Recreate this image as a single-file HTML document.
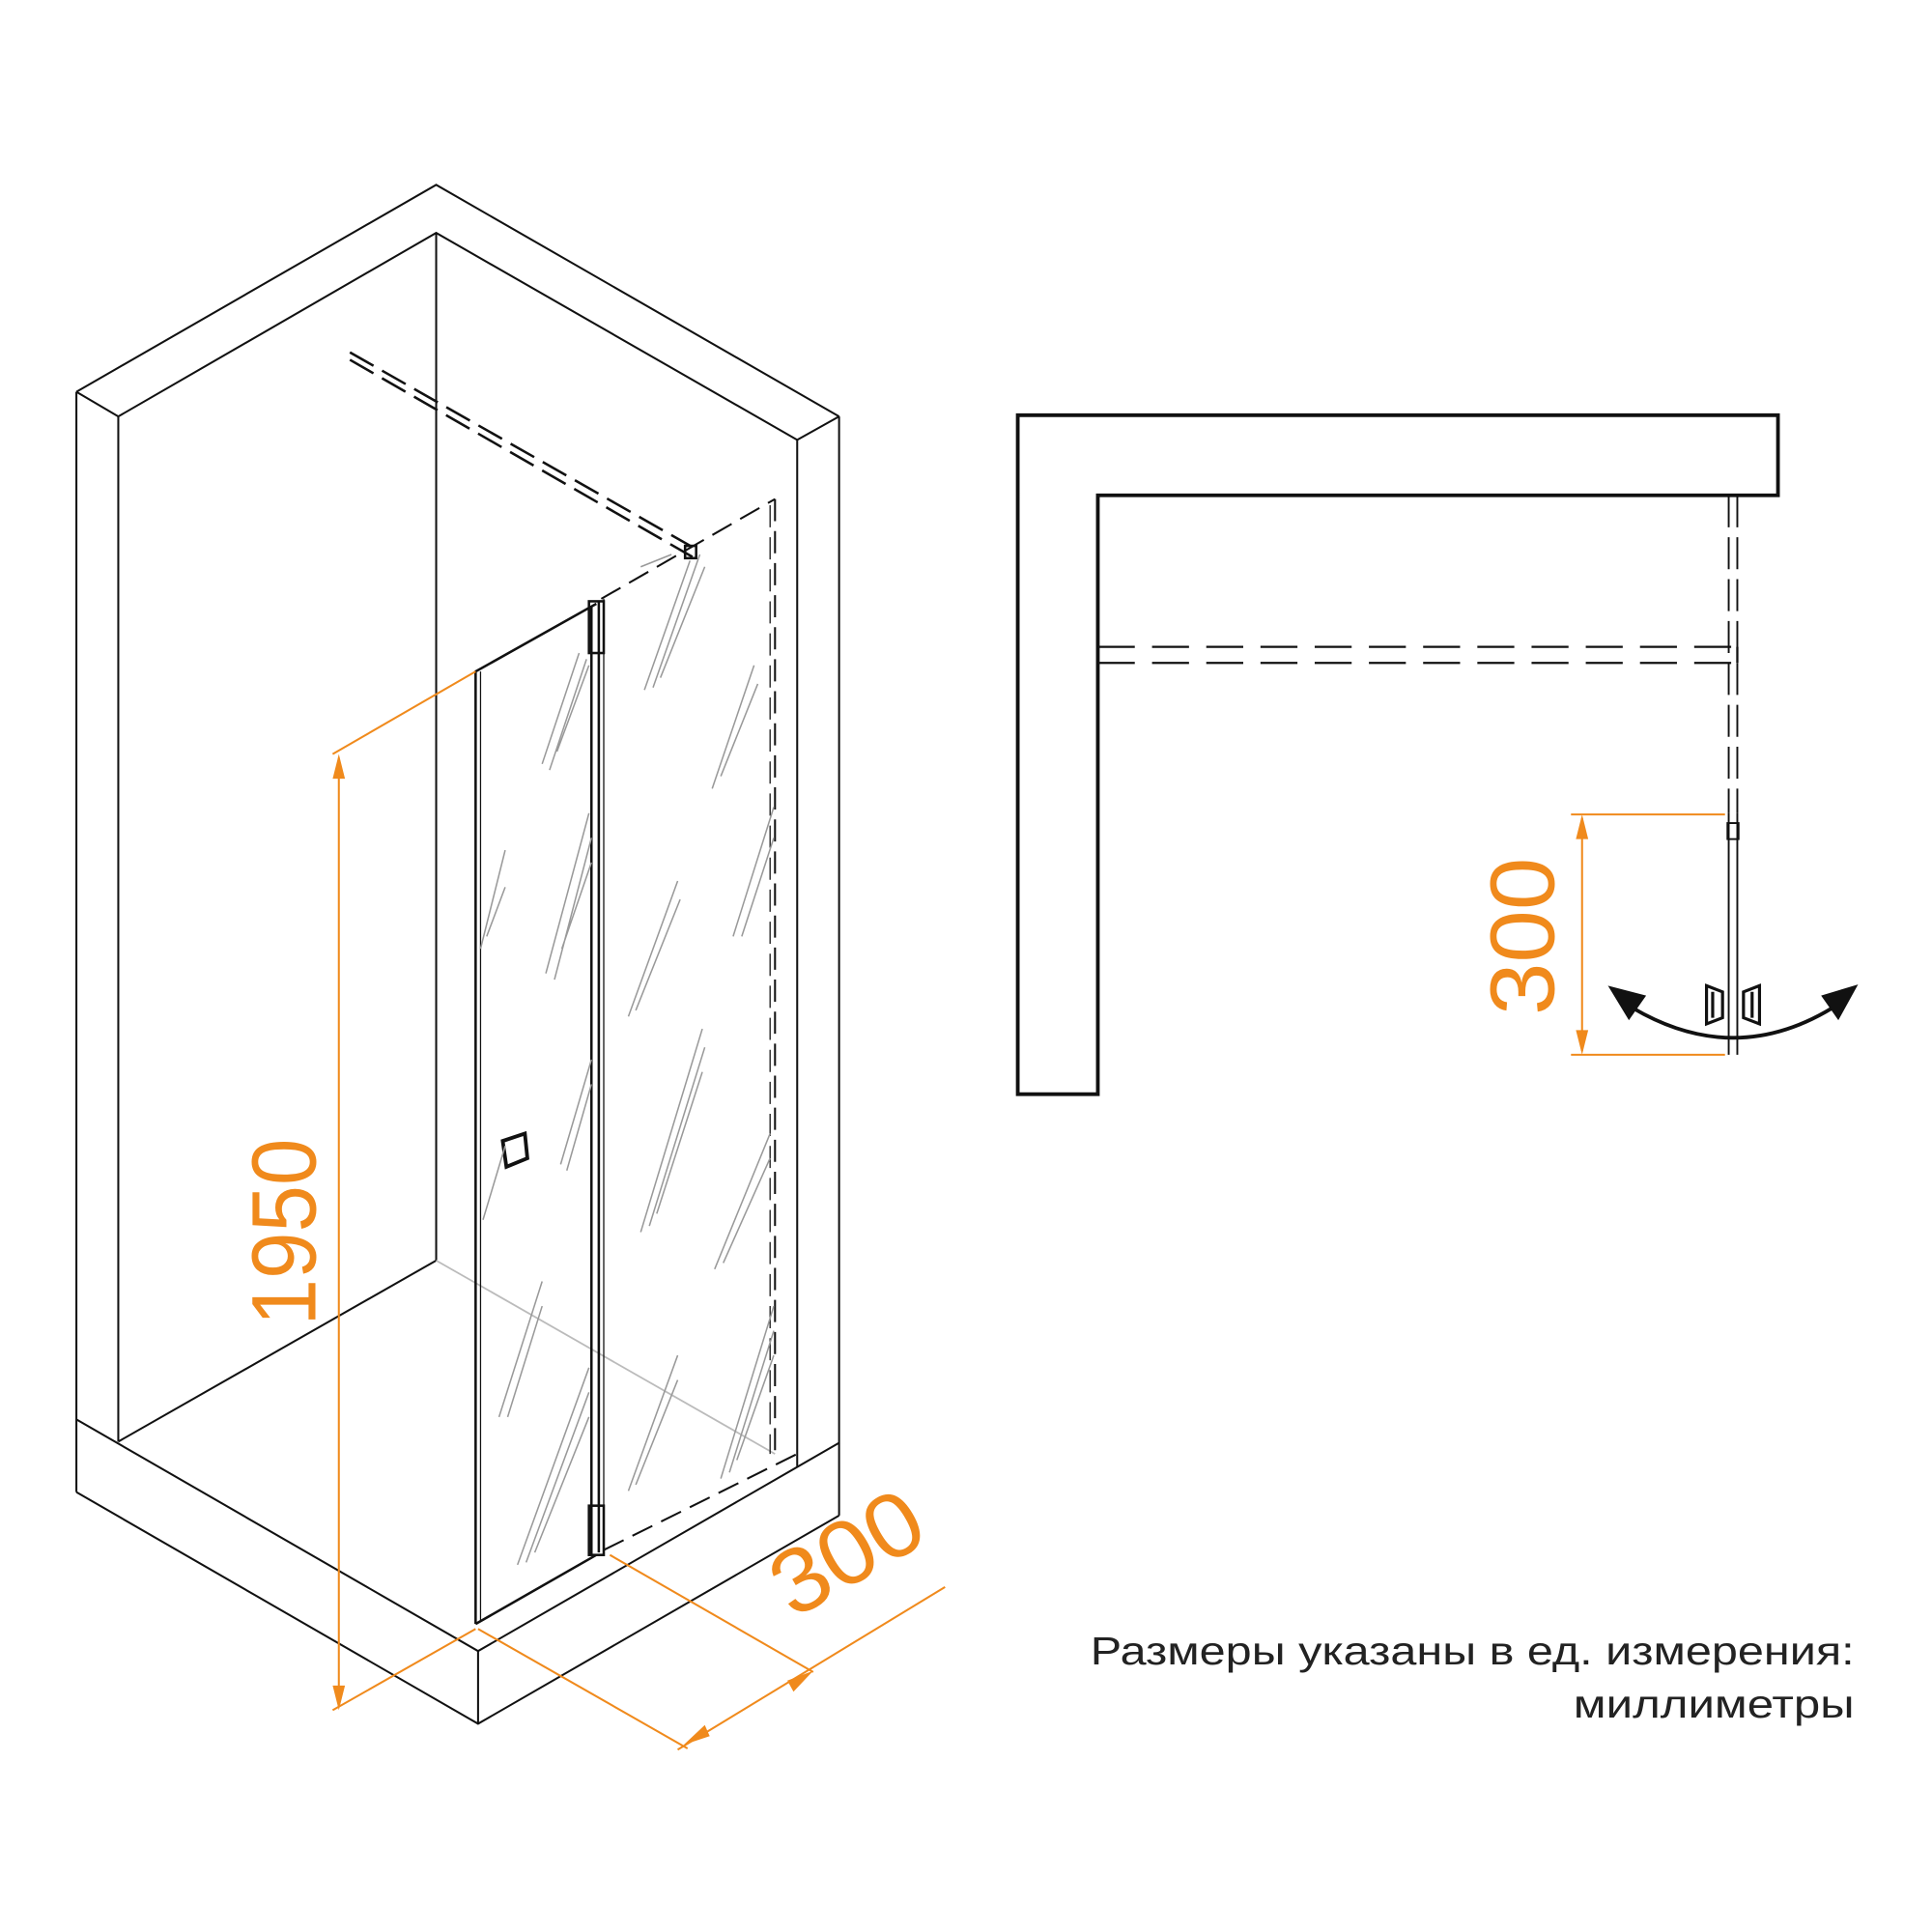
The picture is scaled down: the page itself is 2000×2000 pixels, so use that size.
<!DOCTYPE html>
<html><head><meta charset="utf-8"><style>html,body{margin:0;padding:0;background:#fff}svg{display:block}</style></head><body>
<svg width="2000" height="2000" viewBox="0 0 1568 1568" xmlns="http://www.w3.org/2000/svg">
<g fill="none" stroke="#111" stroke-width="1.6">
<polyline points="62,318 354,150 681,338"/>
<polyline points="96,338 354,189 647,357"/>
<line x1="62" y1="318" x2="96" y2="338"/><line x1="647" y1="357" x2="681" y2="338"/>
<line x1="62" y1="318" x2="62" y2="1211"/><line x1="96" y1="338" x2="96" y2="1170"/>
<line x1="681" y1="338" x2="681" y2="1230"/><line x1="647" y1="357" x2="647" y2="1190"/>
<line x1="354" y1="189" x2="354" y2="1023"/>
<line x1="96" y1="1170" x2="354" y2="1023"/>
<polyline points="62,1152 388,1340 681,1171"/>
<polyline points="62,1211 388,1399 681,1230"/>
<line x1="388" y1="1340" x2="388" y2="1399"/>
<line x1="490" y1="1258" x2="647" y2="1180" stroke-dasharray="18,8"/>
</g>
<line x1="354" y1="1023" x2="629" y2="1180" stroke="#bbb" stroke-width="1.4"/>
<g fill="none" stroke="#111" stroke-width="2">
<line x1="284" y1="286" x2="562" y2="444" stroke-dasharray="22,8"/>
<line x1="284" y1="292" x2="562" y2="452" stroke-dasharray="22,8"/>
<rect x="556" y="443" width="9" height="10"/>
<line x1="488" y1="486" x2="629" y2="405" stroke-dasharray="18,8" stroke-width="1.6"/>
<line x1="629" y1="405" x2="629" y2="1180" stroke-dasharray="18,8" stroke-width="1.6"/>
<line x1="625" y1="410" x2="625" y2="1180" stroke-dasharray="18,8" stroke-width="1"/>
<polyline points="386,1318 386,545 484,490"/>
<line x1="386" y1="1318" x2="484" y2="1262"/>
<line x1="390" y1="545" x2="390" y2="1315" stroke-width="1"/>
<line x1="480" y1="492" x2="480" y2="1262"/>
<line x1="486" y1="488" x2="486" y2="1260"/>
<line x1="490" y1="486" x2="490" y2="1258" stroke-width="1"/>
<rect x="478" y="488" width="12" height="42"/>
<rect x="478" y="1222" width="12" height="40"/>
<path d="M408,926 L426,920 L428,940 L411,947 Z" stroke-width="3"/>
</g>
<g stroke="#999" stroke-width="1.2">
<path d="M440,620 L470,530 M446,625 L476,535 M452,610 L478,540 M523,560 L560,455 M530,558 L568,450 M536,550 L572,460 M578,640 L612,540 M585,630 L615,555 M520,460 L545,450 M595,760 L628,655 M602,760 L628,680 M443,790 L478,660 M450,795 L480,680 M456,770 L480,700 M510,825 L550,715 M516,820 L552,730 M390,770 L410,690 M395,760 L410,720 M455,945 L480,860 M460,950 L480,880 M520,1000 L570,835 M527,995 L572,850 M533,985 L570,870 M580,1030 L625,920 M587,1025 L625,940 M392,990 L410,930 M405,1150 L440,1040 M412,1150 L440,1060 M420,1270 L478,1110 M427,1268 L478,1130 M434,1260 L478,1150 M510,1210 L550,1100 M516,1205 L550,1120 M585,1200 L628,1060 M592,1195 L628,1080 M598,1185 L628,1100"/>
</g>
<g stroke="#f08a1c" stroke-width="1.6" fill="#f08a1c">
<line x1="270" y1="612" x2="386" y2="545"/><line x1="270" y1="1388" x2="386" y2="1322"/>
<line x1="275" y1="615" x2="275" y2="1385"/>
<path d="M275,612 L270,632 L280,632 Z M275,1388 L270,1368 L280,1368 Z" stroke="none"/>
<line x1="388" y1="1322" x2="558" y2="1419"/><line x1="495" y1="1262" x2="660" y2="1357"/>
<line x1="550" y1="1420" x2="767" y2="1288"/>
<path d="M555,1416 L572,1400 L576,1409 Z M660,1356 L639,1364 L644,1373 Z" stroke="none"/>
<line x1="1275" y1="661" x2="1400" y2="661"/><line x1="1275" y1="856" x2="1400" y2="856"/>
<line x1="1284" y1="664" x2="1284" y2="853"/>
<path d="M1284,661 L1279,681 L1289,681 Z M1284,856 L1279,836 L1289,836 Z" stroke="none"/>
</g>
<g fill="#f08a1c" font-family="Liberation Sans, sans-serif" font-size="74">
<text transform="translate(256,1000) rotate(-90)" text-anchor="middle" textLength="152" lengthAdjust="spacingAndGlyphs">1950</text>
<text transform="translate(700,1282) rotate(-30)" text-anchor="middle" textLength="130" lengthAdjust="spacingAndGlyphs">300</text>
<text transform="translate(1261,760) rotate(-90)" text-anchor="middle" textLength="128" lengthAdjust="spacingAndGlyphs">300</text>
</g>
<g fill="none" stroke="#111">
<path d="M826,337 H1443 V402 H891 V888 H826 Z" stroke-width="3"/>
<line x1="891" y1="525" x2="1410" y2="525" stroke-width="1.8" stroke-dasharray="30,14"/>
<line x1="891" y1="538" x2="1410" y2="538" stroke-width="1.8" stroke-dasharray="30,14"/>
<line x1="1410" y1="525" x2="1410" y2="538" stroke-width="1.8"/>
<line x1="1403" y1="402" x2="1403" y2="660" stroke-width="1.5" stroke-dasharray="26,8"/>
<line x1="1410" y1="402" x2="1410" y2="660" stroke-width="1.5" stroke-dasharray="26,8"/>
<line x1="1403" y1="660" x2="1403" y2="856" stroke-width="1.5"/>
<line x1="1410" y1="660" x2="1410" y2="856" stroke-width="1.5"/>
<rect x="1402" y="668" width="9" height="13" stroke-width="1.5"/>
<path d="M1325,818 Q1410,868 1492,815" stroke-width="3"/>
<path d="M1385,800 L1398,805 V826 L1385,831 Z M1428,800 L1415,805 V826 L1428,831 Z M1390,805 V826 M1422,805 V826" stroke-width="2.5"/>
</g>
<path d="M1305,800 L1336,808 L1322,828 Z M1508,799 L1478,808 L1492,828 Z" fill="#111"/>
<g font-family="Liberation Sans, sans-serif" font-size="32" fill="#222">
<text x="885" y="1351" textLength="620" lengthAdjust="spacingAndGlyphs">Размеры указаны в ед. измерения:</text>
<text x="1277" y="1394" textLength="228" lengthAdjust="spacingAndGlyphs">миллиметры</text>
</g>
</svg>
</body></html>
